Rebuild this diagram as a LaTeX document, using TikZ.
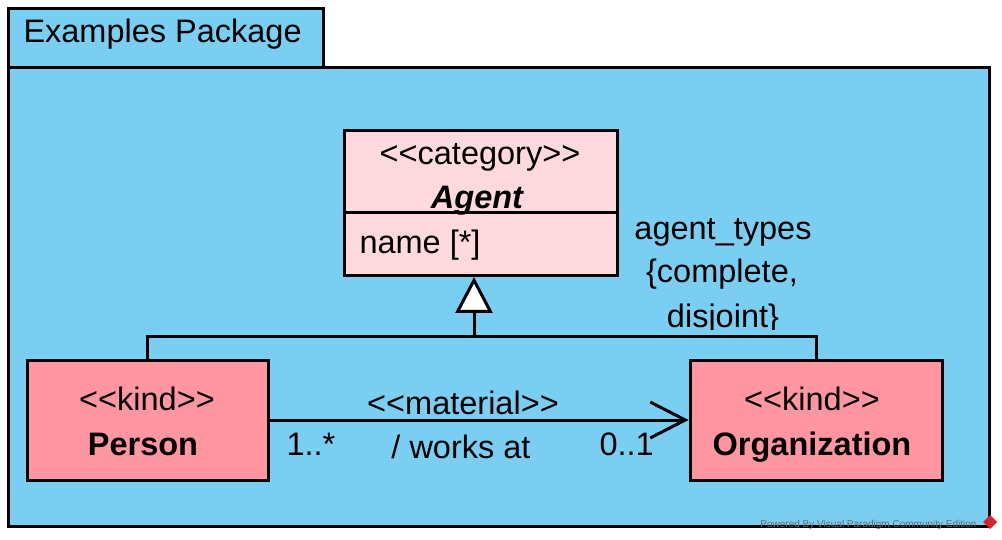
\documentclass[tikz,border=0pt]{standalone}
\usepackage{fontspec}
\setmainfont{Liberation Sans}[Ligatures=TeXOff]
\usetikzlibrary{arrows.meta}
\definecolor{pkgblue}{RGB}{122,206,242}
\definecolor{agentpink}{RGB}{254,217,221}
\definecolor{kindpink}{RGB}{255,150,161}
\definecolor{wmgray}{RGB}{105,105,105}
\definecolor{vpred}{RGB}{215,35,45}
\begin{document}
\begin{tikzpicture}[x=1pt,y=-1pt,line width=3pt,
  pkg/.style={draw=black,fill=pkgblue,line width=3pt,inner sep=0pt,anchor=north west},
  cls/.style={draw=black,line width=3pt,inner sep=0pt},
  txt/.style={font=\fontsize{32.5}{39}\selectfont,inner sep=0pt,anchor=base},
  lbl/.style={txt,anchor=base west},
  conn/.style={draw=black,line width=3pt}]
\useasboundingbox (0,0) rectangle (1002,540);
\fill[white] (0,0) rectangle (1002,540);
% package
\node[pkg,minimum width=981,minimum height=459] (pkgbody) at (7,66) {};
\node[pkg,minimum width=315,minimum height=59] (tab) at (7,7) {};
\node[lbl] (title) at (22,43) {Examples Package};
% Agent class
\node[cls,fill=agentpink,anchor=north west,minimum width=273,minimum height=145] (agent) at (343,129) {};
\path (agent.north west) ++(0,84) coordinate (dl);
\draw[conn] (dl) -- (dl -| agent.east);
\node[txt] (agst) at (480,165) {<<category>>};
\node[txt] (agname) at (477,209) {\bfseries\itshape Agent};
\node[lbl] (agattr) at (358,254) {name [*]};
% Person and Organization
\node[cls,fill=kindpink,minimum width=241,minimum height=120] (person) at (147.5,420) {};
\node[txt] (pst) at (147,410) {<<kind>>};
\node[txt] (pname) at (143,455) {\bfseries Person};
\node[cls,fill=kindpink,minimum width=252,minimum height=120] (org) at (816,420) {};
\node[txt] (ost) at (812,410) {<<kind>>};
\node[txt] (oname) at (812,455) {\bfseries Organization};
% generalization set
\coordinate (j) at (474,336);
\draw[conn] (person.north) -- (person.north |- j) -- (org.north |- j) -- (org.north);
\draw[conn,-{Triangle[length=36pt,width=37pt,fill=white]}] (j) -- (j |- agent.south);
\node[txt] (gs1) at (723,240) {agent\_types};
\node[txt] (gs2) at (722,283) {\{complete,};
\begin{scope}
\clip (600,292) rectangle (850,329);
\node[txt] (gs3) at (723,327) {disjoint\}};
\end{scope}
% association
\draw[conn,-{Straight Barb[length=35pt,width=36pt]}] (person.east) -- (org.west);
\node[txt] (ast) at (463,414) {<<material>>};
\node[txt] (aname) at (461,458) {/ works at};
\node[lbl] (m1) at (285,455) {1..*};
\node[lbl] (m2) at (598,455) {0..1};
% watermark
\node[font=\fontsize{10}{12}\selectfont,text=wmgray,inner sep=0pt,anchor=base east] (wm) at (978,527) {Powered By Visual Paradigm Community Edition};
\fill[vpred] (990,515) -- (997,522) -- (990,529) -- (983,522) -- cycle;
\end{tikzpicture}
\end{document}
